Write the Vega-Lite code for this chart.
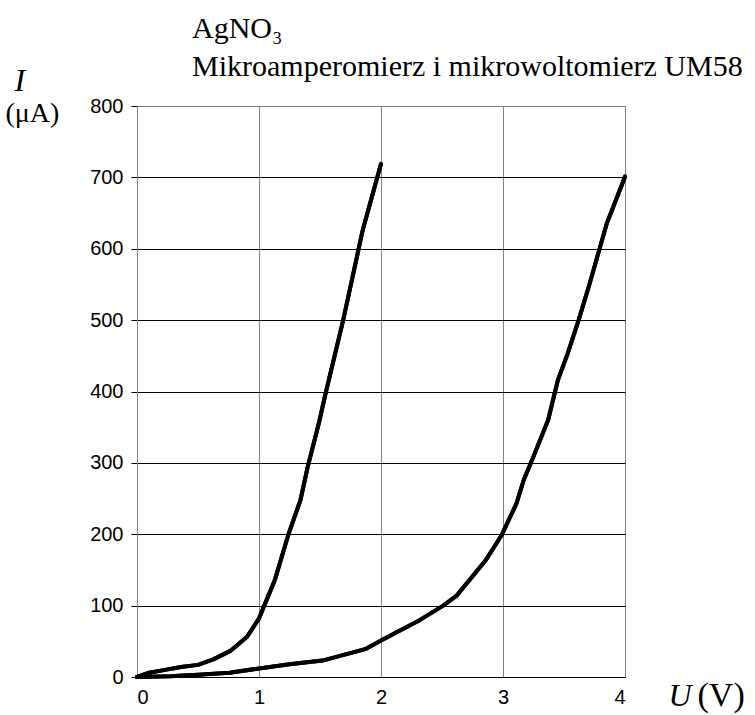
{
  "$schema": "https://vega.github.io/schema/vega-lite/v6.json",
  "width": 488,
  "height": 571,
  "autosize": {"type": "none"},
  "padding": {"left": 137, "top": 106, "right": 130, "bottom": 38},
  "background": "white",
  "config": {"view": {"stroke": "#808080", "strokeWidth": 1}},
  "title": {
    "text": ["AgNO₃", "Mikroamperomierz i mikrowoltomierz UM58"],
    "font": "Liberation Serif",
    "fontSize": 30,
    "fontWeight": "normal",
    "color": "black",
    "anchor": "start",
    "frame": "group",
    "dx": 55,
    "offset": -18,
    "lineHeight": 38
  },
  "data": {
    "values": [
      {"s": "a", "u": 0, "i": 0}, {"s": "a", "u": 0.1, "i": 6}, {"s": "a", "u": 0.23, "i": 10},
      {"s": "a", "u": 0.36, "i": 14}, {"s": "a", "u": 0.5, "i": 17}, {"s": "a", "u": 0.63, "i": 25},
      {"s": "a", "u": 0.77, "i": 37}, {"s": "a", "u": 0.9, "i": 56}, {"s": "a", "u": 1.0, "i": 82},
      {"s": "a", "u": 1.06, "i": 107}, {"s": "a", "u": 1.13, "i": 136}, {"s": "a", "u": 1.24, "i": 199},
      {"s": "a", "u": 1.34, "i": 248}, {"s": "a", "u": 1.4, "i": 295}, {"s": "a", "u": 1.49, "i": 355},
      {"s": "a", "u": 1.54, "i": 393}, {"s": "a", "u": 1.69, "i": 500}, {"s": "a", "u": 1.85, "i": 626},
      {"s": "a", "u": 2.0, "i": 719},
      {"s": "b", "u": 0, "i": 0}, {"s": "b", "u": 0.27, "i": 1}, {"s": "b", "u": 0.5, "i": 3},
      {"s": "b", "u": 0.76, "i": 6}, {"s": "b", "u": 1.0, "i": 12}, {"s": "b", "u": 1.25, "i": 18},
      {"s": "b", "u": 1.52, "i": 23}, {"s": "b", "u": 1.87, "i": 39}, {"s": "b", "u": 2.0, "i": 51},
      {"s": "b", "u": 2.32, "i": 80}, {"s": "b", "u": 2.51, "i": 100}, {"s": "b", "u": 2.62, "i": 114},
      {"s": "b", "u": 2.86, "i": 164}, {"s": "b", "u": 2.99, "i": 199}, {"s": "b", "u": 3.11, "i": 243},
      {"s": "b", "u": 3.17, "i": 276}, {"s": "b", "u": 3.25, "i": 309}, {"s": "b", "u": 3.37, "i": 360},
      {"s": "b", "u": 3.45, "i": 416}, {"s": "b", "u": 3.53, "i": 453}, {"s": "b", "u": 3.62, "i": 500},
      {"s": "b", "u": 3.71, "i": 551}, {"s": "b", "u": 3.78, "i": 593}, {"s": "b", "u": 3.85, "i": 635},
      {"s": "b", "u": 4.0, "i": 701}
    ]
  },
  "layer": [
    {
      "mark": {"type": "line", "color": "black", "strokeWidth": 4, "strokeJoin": "round", "strokeCap": "round", "clip": false},
      "encoding": {
        "x": {
          "field": "u", "type": "quantitative",
          "scale": {"domain": [0, 4], "nice": false, "zero": false},
          "axis": {
            "values": [0, 1, 2, 3, 4], "format": "d",
            "grid": true, "gridColor": "#808080", "gridWidth": 1, "gridOpacity": 1,
            "domain": true, "domainColor": "black", "domainWidth": 1,
            "ticks": false, "labelPadding": 10,
            "labelFont": "Liberation Sans", "labelFontSize": 20, "labelColor": "black",
            "title": "U", "titleFont": "Liberation Serif", "titleFontStyle": "italic", "titleFontWeight": "normal",
            "titleFontSize": 32, "titleColor": "black",
            "titleAnchor": "start", "titleAlign": "left", "titleBaseline": "alphabetic",
            "titleX": 531, "titleY": 28
          }
        },
        "y": {
          "field": "i", "type": "quantitative",
          "scale": {"domain": [0, 800], "nice": false},
          "axis": {
            "values": [0, 100, 200, 300, 400, 500, 600, 700, 800],
            "grid": true,
            "gridColor": {"condition": {"test": "datum.value == 800", "value": "#808080"}, "value": "black"},
            "gridWidth": 1, "gridOpacity": 1,
            "domain": true, "domainColor": "#808080", "domainWidth": 1,
            "ticks": true, "tickColor": "black", "tickSize": 6, "tickWidth": 1,
            "labelPadding": 8,
            "labelFont": "Liberation Sans", "labelFontSize": 20, "labelColor": "black",
            "title": "I", "titleFont": "Liberation Serif", "titleFontStyle": "italic", "titleFontWeight": "normal",
            "titleFontSize": 32, "titleColor": "black", "titleAngle": 0,
            "titleAlign": "left", "titleBaseline": "alphabetic",
            "titleX": -123, "titleY": -16
          }
        },
        "detail": {"field": "s"}
      }
    },
    {
      "mark": {"type": "line", "color": "black", "strokeWidth": 4, "strokeJoin": "round", "strokeCap": "round", "clip": false},
      "encoding": {
        "x": {
          "field": "u", "type": "quantitative",
          "axis": {
            "orient": "bottom", "labels": false, "ticks": false, "domain": false, "grid": false,
            "title": "(V)", "titleFont": "Liberation Serif", "titleFontWeight": "normal",
            "titleFontSize": 34, "titleColor": "black",
            "titleAlign": "left", "titleBaseline": "alphabetic",
            "titleX": 560, "titleY": 28
          }
        },
        "y": {
          "field": "i", "type": "quantitative",
          "axis": {
            "orient": "left", "labels": false, "ticks": false, "domain": false, "grid": false,
            "title": "(μA)", "titleFont": "Liberation Serif", "titleFontWeight": "normal",
            "titleFontSize": 28, "titleColor": "black", "titleAngle": 0,
            "titleAlign": "left", "titleBaseline": "alphabetic",
            "titleX": -132, "titleY": 15
          }
        },
        "detail": {"field": "s"}
      }
    }
  ],
  "resolve": {"axis": {"x": "independent", "y": "independent"}}
}
